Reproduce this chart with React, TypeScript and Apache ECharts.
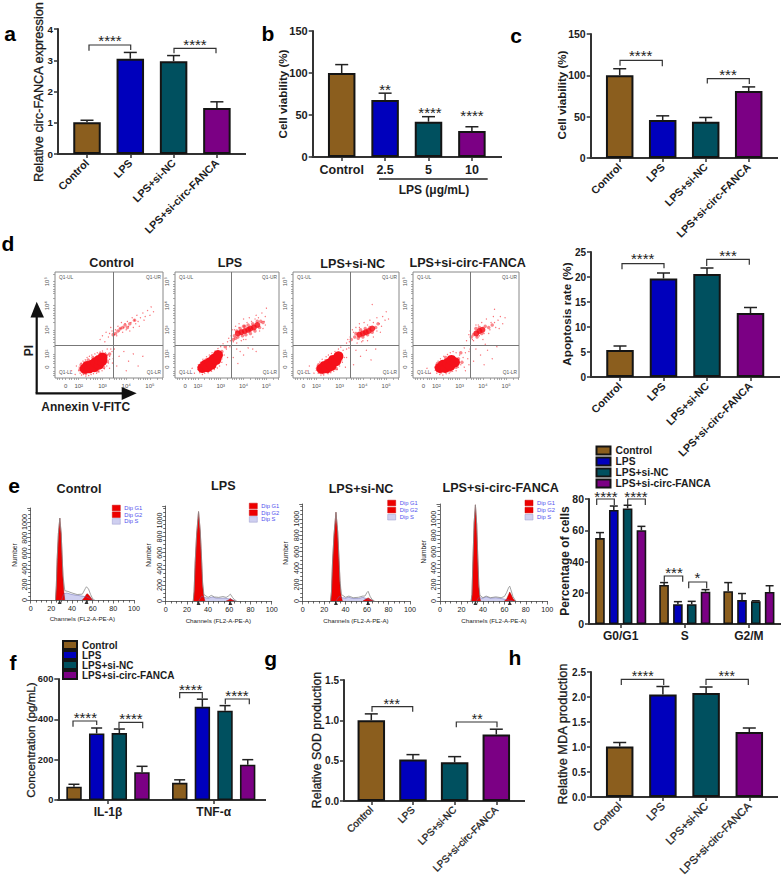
import React, { useEffect, useRef } from "react";
import * as echarts from "echarts";

const FONT = "Liberation Sans, Arial, sans-serif";
const INK = "#1c1c1c";
const AXIS = "#333333";
const COLORS = ["#8b5e1e", "#0000bc", "#00505f", "#7b0084"];

const TREATMENTS = ["Control", "LPS", "LPS+si-NC", "LPS+si-circ-FANCA"];
const DOSES = ["Control", "2.5", "5", "10"];
const PHASES = ["G0/G1", "S", "G2/M"];
const CYTOKINES = ["IL-1β", "TNF-α"];

const A_VALUES = [1.02, 3.05, 2.97, 1.47];
const A_UPPER = [1.08, 3.25, 3.15, 1.67];
const B_VALUES = [100, 68, 42, 31];
const B_UPPER = [110, 76, 48, 36];
const C_VALUES = [100, 46, 44, 81];
const C_UPPER = [108, 51, 49, 86];
const D_VALUES = [5.4, 19.7, 20.6, 12.8];
const D_UPPER = [6.2, 20.8, 21.8, 13.9];
const G_VALUES = [1.0, 0.515, 0.48, 0.825];
const G_UPPER = [1.08, 0.575, 0.55, 0.89];
const H_VALUES = [1.01, 2.05, 2.08, 1.3];
const H_UPPER = [1.09, 2.21, 2.2, 1.38];

// by treatment, across G0/G1, S, G2/M
const E_VALUES = [[55, 25, 21], [73, 12.7, 15.3], [74, 12.7, 14.5], [60, 20.7, 20.5]];
const E_UPPER = [[58.5, 26.5, 26.5], [75.5, 14.3, 19.5], [76, 14.5, 14.9], [62.5, 22, 24.5]];
// by treatment, across IL-1β, TNF-α
const F_VALUES = [[66, 85], [330, 462], [332, 443], [138, 175]];
const F_UPPER = [[78, 100], [357, 500], [352, 468], [167, 200]];

// flow cytometry, in decades of the two log axes
const FACS_TICKS = [1.45, 2, 3, 4, 5];
const FACS_LABELS = ["0", "10²", "10³", "10⁴", "10⁵"];
const FACS_MINOR = [1.1, 1.2, 1.3, 1.45, 1.6, 1.7, 1.8, 1.9, 2, 2.3, 2.5, 2.6, 2.7, 2.8, 2.9, 3, 3.3, 3.5, 3.6, 3.7, 3.8, 3.9, 4, 4.3, 4.5, 4.6, 4.7, 4.8, 4.9, 5, 5.3, 5.5];
const QUADRANT_X = 3.46;
const QUADRANT_Y = 2.38;

const F1_CORE = [[2.25, 1.38], [2.35, 1.5], [2.45, 1.4], [2.55, 1.55], [2.65, 1.45], [2.7, 1.65], [2.85, 1.55], [2.85, 1.75], [2.98, 1.7], [3.0, 1.85]];
const F1_BAND: number[][] = [];
const F1_HAZE = [[2.05, 1.35], [2.1, 1.55], [2.3, 1.2], [2.4, 1.75], [2.6, 1.85], [2.8, 1.3], [3.05, 1.45], [3.2, 1.7], [3.15, 1.95], [2.9, 2.0], [3.3, 2.0], [3.55, 2.85], [3.75, 3.05], [3.95, 3.2], [4.15, 3.25], [4.35, 3.4], [3.65, 2.95], [3.85, 3.1], [4.05, 3.1], [3.45, 2.8]];
const F1_SPARSE = [[2.9, 2.6], [3, 2.75], [3.1, 2.5], [3.15, 2.9], [3.25, 2.7], [3.3, 2.85], [3.4, 2.95], [3.35, 3.1], [3.5, 2.8], [3.55, 3.0], [3.6, 2.75], [3.65, 3.15], [3.7, 2.95], [3.75, 3.05], [3.8, 3.3], [3.85, 2.9], [3.9, 3.1], [3.95, 3.25], [4, 3.0], [4.05, 3.35], [4.1, 3.15], [4.15, 2.95], [4.2, 3.3], [4.25, 3.5], [4.3, 3.1], [4.35, 3.4], [4.4, 3.25], [4.45, 3.6], [4.5, 3.35], [4.55, 3.15], [4.6, 3.5], [4.7, 3.7], [4.75, 3.4], [4.8, 3.55], [4.9, 3.8], [5, 3.6], [5.05, 3.95], [5.15, 3.75], [3.5, 2.2], [3.7, 1.9], [3.9, 2.1], [4.1, 1.7], [3.6, 1.5], [4.3, 2.0], [4.5, 1.5], [4.0, 1.3], [3.45, 1.8], [4.7, 1.9], [3.4, 2.1], [3.3, 1.4], [3.3, 1.9], [3.2, 2.2], [1.7, 1.3], [1.9, 1.5], [1.85, 1.15],
  [2.0, 1.3], [2.02, 1.45], [2.06, 1.2], [2.1, 1.62], [2.12, 1.12], [2.18, 1.7], [2.2, 1.15], [2.28, 1.75], [2.3, 1.08], [2.35, 1.85], [2.42, 1.1], [2.45, 1.9], [2.52, 1.15], [2.55, 1.95], [2.62, 1.18], [2.68, 2.0], [2.75, 1.2], [2.78, 2.05], [2.85, 1.25], [2.9, 2.08], [2.98, 1.3], [3.0, 2.12], [3.08, 1.38], [3.12, 2.05], [3.18, 1.5], [3.22, 1.95], [3.25, 1.62], [3.3, 1.78], [3.35, 2.2], [3.42, 1.62]];

const F2_CORE = [[2.2, 1.42], [2.32, 1.55], [2.42, 1.45], [2.52, 1.65], [2.6, 1.55], [2.7, 1.8], [2.8, 1.75], [2.88, 1.95]];
const F2_BAND = [[3.75, 2.85], [3.9, 2.9], [4.05, 2.95], [4.2, 3.0], [4.3, 3.05], [4.45, 3.1], [4.6, 3.2]];
const F2_HAZE = [[2.05, 1.45], [2.15, 1.3], [2.35, 1.75], [2.55, 1.35], [2.75, 1.55], [3.0, 1.8], [3.05, 2.1], [3.2, 2.3], [3.6, 2.75], [3.65, 2.65], [3.75, 2.7], [3.85, 3.05], [3.95, 2.75], [4.05, 3.15], [4.1, 2.8], [4.2, 3.2], [4.3, 2.85], [4.4, 3.25], [4.5, 2.95], [4.6, 3.35], [4.7, 3.1], [4.75, 3.35], [3.7, 2.95], [4.0, 3.15], [4.85, 3.3], [3.55, 2.6]];
const F2_SPARSE = [[3.3, 2.5], [3.4, 2.3], [3.45, 2.75], [3.5, 3.0], [3.55, 2.5], [3.65, 3.15], [3.8, 3.25], [3.9, 2.55], [4.0, 3.45], [4.1, 2.6], [4.25, 3.5], [4.4, 2.7], [4.55, 3.6], [4.7, 2.95], [4.8, 3.7], [4.9, 3.35], [4.95, 3.55], [5.0, 3.9], [3.7, 2.2], [3.85, 2.1], [4.0, 1.95], [4.2, 2.25], [4.4, 2.2], [4.55, 2.1], [3.55, 1.85], [3.75, 1.6], [3.3, 1.85], [1.75, 1.4], [1.85, 1.2], [3.25, 1.55],
  [2.0, 1.35], [2.02, 1.55], [2.08, 1.22], [2.12, 1.65], [2.2, 1.15], [2.22, 1.78], [2.3, 1.2], [2.38, 1.88], [2.45, 1.22], [2.5, 1.95], [2.6, 1.28], [2.62, 2.05], [2.72, 1.35], [2.75, 2.12], [2.85, 1.42], [2.88, 2.22], [2.95, 1.5], [3.0, 2.3], [3.05, 1.65], [3.1, 2.42], [3.15, 1.95], [3.25, 2.2], [3.35, 2.65], [3.42, 2.55], [3.6, 3.0], [3.7, 2.45], [3.8, 3.1], [4.0, 2.6], [4.15, 3.3], [4.35, 3.35], [4.5, 3.45], [4.65, 3.5], [4.85, 3.05], [4.95, 3.2]];

const F3_CORE = [[2.22, 1.38], [2.35, 1.5], [2.45, 1.4], [2.55, 1.6], [2.65, 1.5], [2.72, 1.75], [2.85, 1.7], [2.95, 1.9]];
const F3_BAND = [[3.85, 2.8], [4.0, 2.85], [4.12, 2.9], [4.25, 2.95], [4.4, 3.05]];
const F3_HAZE = [[2.05, 1.4], [2.1, 1.55], [2.3, 1.22], [2.4, 1.72], [2.6, 1.3], [2.85, 1.4], [3.05, 1.75], [3.05, 2.0], [3.65, 2.7], [3.7, 2.85], [3.8, 2.65], [3.9, 3.0], [4.0, 2.7], [4.1, 3.05], [4.2, 2.8], [4.3, 3.1], [4.4, 2.9], [4.55, 3.1], [4.65, 3.25], [3.5, 2.6]];
const F3_SPARSE = [[3.3, 2.45], [3.4, 2.25], [3.45, 2.7], [3.55, 3.0], [3.7, 3.1], [3.85, 3.25], [3.95, 2.5], [4.05, 3.3], [4.2, 2.55], [4.3, 3.4], [4.45, 2.7], [4.6, 3.5], [4.7, 3.25], [4.75, 2.9], [4.85, 3.55], [4.95, 3.4], [5.0, 3.75], [5.1, 3.45], [4.4, 4.05], [3.7, 2.15], [3.9, 1.9], [4.15, 2.15], [4.35, 1.75], [4.55, 2.2], [3.6, 1.55], [3.3, 1.85], [3.25, 1.45], [1.7, 1.5], [1.6, 1.3], [1.9, 1.2],
  [2.0, 1.32], [2.03, 1.5], [2.08, 1.2], [2.15, 1.66], [2.2, 1.12], [2.25, 1.78], [2.32, 1.12], [2.42, 1.88], [2.5, 1.18], [2.52, 1.95], [2.62, 1.22], [2.65, 2.02], [2.75, 1.28], [2.8, 2.1], [2.9, 1.35], [2.95, 2.2], [3.0, 1.5], [3.05, 2.28], [3.12, 1.65], [3.15, 2.15], [3.2, 1.85], [3.3, 2.2], [3.35, 2.6], [3.42, 2.5], [3.6, 2.9], [3.75, 2.45], [3.85, 3.1], [4.0, 2.55], [4.2, 3.2], [4.45, 3.3], [4.6, 2.95], [4.8, 3.15]];

const F4_CORE = [[2.15, 1.42], [2.28, 1.55], [2.38, 1.42], [2.48, 1.62], [2.6, 1.5], [2.65, 1.75], [2.8, 1.65]];
const F4_BAND = [[3.72, 2.85], [3.85, 2.95], [3.98, 3.0]];
const F4_HAZE = [[1.98, 1.45], [2.05, 1.6], [2.2, 1.25], [2.4, 1.85], [2.6, 1.3], [2.85, 1.45], [2.95, 1.8], [3.1, 1.65], [3.05, 2.05], [3.6, 2.8], [3.75, 2.7], [3.85, 3.1], [3.95, 2.85], [4.1, 3.15], [3.7, 3.05], [4.25, 3.1], [4.4, 3.2], [3.5, 2.7]];
const F4_SPARSE = [[3.3, 2.55], [3.4, 2.8], [3.45, 2.95], [3.55, 2.6], [3.7, 3.2], [3.85, 2.75], [3.95, 3.3], [4.05, 2.85], [4.15, 3.45], [4.3, 3.0], [4.35, 3.3], [4.45, 3.55], [4.55, 3.1], [4.65, 3.4], [4.75, 3.55], [4.85, 3.25], [4.95, 3.5], [4.5, 3.85], [3.4, 2.1], [3.6, 1.7], [3.7, 2.2], [3.9, 1.95], [4.05, 1.55], [4.2, 2.15], [4.4, 1.8], [3.4, 1.55], [3.25, 1.3], [3.2, 2.25], [1.6, 1.4], [1.75, 1.2], [4.6, 2.3], [4.1, 2.4],
  [1.95, 1.32], [1.98, 1.55], [2.02, 1.2], [2.08, 1.7], [2.15, 1.15], [2.18, 1.8], [2.28, 1.12], [2.32, 1.9], [2.42, 1.18], [2.48, 1.98], [2.55, 1.2], [2.6, 2.05], [2.7, 1.28], [2.72, 2.1], [2.85, 1.3], [2.85, 2.05], [2.95, 1.45], [3.0, 1.95], [3.05, 1.55], [3.15, 1.85], [3.2, 1.45], [3.25, 2.05], [3.35, 1.8], [3.45, 2.2], [3.6, 2.55], [3.8, 3.2], [4.0, 2.6], [4.25, 2.85], [4.5, 3.3], [4.7, 3.05]];

// cell cycle histograms: [channel, number]
const H1_G1 = [[24, 0], [24.8, 180], [25.6, 520], [26.8, 850], [28.2, 1050], [29.5, 850], [30.5, 530], [31.3, 280], [32.2, 90], [33, 0]];
const H1_S = [[30, 0], [32, 80], [35, 90], [40, 70], [45, 60], [50, 50], [54, 40], [58, 15], [60, 0]];
const H1_G2 = [[50, 0], [52, 30], [54, 75], [55, 80], [57, 50], [59, 15], [60, 0]];
const H1_TOTAL = [[24, 0], [24.8, 180], [25.6, 520], [26.8, 850], [28.2, 1050], [29.5, 850], [30.5, 540], [31.3, 310], [33, 120], [36, 110], [40, 90], [45, 70], [50, 75], [53, 150], [54, 170], [56, 140], [58, 70], [60, 15], [62, 0]];
const H2_G1 = [[26, 0], [26.8, 120], [27.8, 480], [29.2, 830], [31, 1110], [32.6, 860], [33.8, 520], [34.8, 200], [36, 50], [37, 0]];
const H2_S = [[31, 0], [34, 60], [36, 45], [40, 35], [44, 50], [48, 35], [52, 35], [56, 35], [60, 25], [64, 10], [66, 0]];
const H2_G2 = [[57, 0], [59, 10], [61, 30], [63, 12], [65, 0]];
const H2_TOTAL = [[26, 0], [26.8, 120], [27.8, 480], [29.2, 830], [31, 1110], [32.6, 870], [33.8, 540], [34.8, 240], [36, 80], [40, 45], [43, 70], [46, 50], [50, 45], [54, 55], [57, 45], [59, 60], [61, 85], [63, 45], [65, 15], [67, 0]];
const H3_G1 = [[26, 0], [26.8, 110], [27.8, 470], [29.2, 810], [31, 1080], [32.6, 840], [33.8, 510], [34.8, 210], [36, 50], [37, 0]];
const H3_S = [[31, 0], [34, 55], [37, 40], [40, 35], [43, 45], [47, 30], [52, 30], [56, 45], [60, 25], [64, 10], [66, 0]];
const H3_G2 = [[56, 0], [58, 15], [61, 38], [63, 22], [66, 0]];
const H3_TOTAL = [[26, 0], [26.8, 110], [27.8, 470], [29.2, 810], [31, 1080], [32.6, 850], [33.8, 530], [34.8, 250], [36, 80], [40, 45], [43, 60], [47, 40], [52, 45], [56, 60], [58, 60], [60, 105], [61, 118], [63, 50], [65, 15], [67, 0]];
const H4_G1 = [[29, 0], [29.8, 80], [30.6, 450], [31.8, 950], [33, 1170], [34.2, 930], [35.2, 530], [36.2, 170], [37.2, 30], [38, 0]];
const H4_S = [[34, 0], [36, 40], [40, 35], [43, 50], [47, 35], [52, 40], [57, 30], [61, 20], [65, 8], [68, 0]];
const H4_G2 = [[60, 0], [62, 20], [64, 80], [65, 110], [66, 85], [68, 30], [70, 0]];
const H4_TOTAL = [[29, 0], [29.8, 80], [30.6, 450], [31.8, 950], [33, 1170], [34.2, 935], [35.2, 550], [36.2, 200], [37.2, 70], [40, 40], [43, 60], [47, 40], [52, 50], [57, 40], [60, 55], [62, 100], [64, 165], [65, 180], [66, 140], [68, 55], [70, 10], [71, 0]];
const H1_PEAKS = [28, 54];
const H2_PEAKS = [31, 61];
const H3_PEAKS = [31, 61];
const H4_PEAKS = [33, 65];

type Any = any;

function buildOption() {
  const grids: Any[] = [];
  const xAxes: Any[] = [];
  const yAxes: Any[] = [];
  const series: Any[] = [];
  const graphics: Any[] = [];

  const text = (t: string, x: number, y: number, size: number, opts: Any = {}) => {
    graphics.push({
      type: "text",
      x,
      y,
      rotation: opts.rotation || 0,
      silent: true,
      style: {
        text: t,
        fontFamily: FONT,
        fontSize: size,
        fontWeight: opts.weight || "bold",
        fill: opts.fill || INK,
        stroke: opts.heavy ? INK : undefined,
        lineWidth: opts.heavy ? 0.3 : 0,
        align: opts.align || "center",
        textAlign: opts.align || "center",
        verticalAlign: "middle",
        textVerticalAlign: "middle",
      },
    });
  };
  const line = (x1: number, y1: number, x2: number, y2: number, stroke = AXIS, lineWidth = 2) => {
    graphics.push({ type: "line", silent: true, shape: { x1, y1, x2, y2 }, style: { stroke, lineWidth } });
  };
  const star = (t: string, x: number, y: number, size = 15) => {
    text(t, x, y + 1.2, size, { weight: "normal", fill: "#222" });
  };
  const bracket = (x1: number, x2: number, top: number, b1: number, b2: number, stars: string, sx: number, sy: number, size = 15) => {
    graphics.push({
      type: "polyline",
      silent: true,
      shape: { points: [[x1, b1], [x1, top], [x2, top], [x2, b2]] },
      style: { stroke: "#333", lineWidth: 1.2, fill: "none" },
    });
    star(stars, sx, sy, size);
  };

  const errors = (gi: number, values: number[], upper: number[], offset: number, cap: number, name = "error") => {
    series.push({
      type: "custom",
      name,
      xAxisIndex: gi,
      yAxisIndex: gi,
      z: 5,
      clip: false,
      silent: true,
      encode: { x: 0, y: 1 },
      data: values.map((v, i) => [i, upper[i], v]),
      renderItem: (_p: Any, api: Any) => {
        const top = api.coord([api.value(0), api.value(1)]);
        const base = api.coord([api.value(0), api.value(2)]);
        const x = top[0] + offset;
        const style = { stroke: "#222", lineWidth: 1.5, fill: "none" };
        return {
          type: "group",
          children: [
            { type: "line", shape: { x1: x, y1: top[1], x2: x, y2: base[1] }, style },
            { type: "line", shape: { x1: x - cap, y1: top[1], x2: x + cap, y2: top[1] }, style },
          ],
        };
      },
    });
  };

  const frame = (cats: string[], c: Any) => {
    const gi = grids.length;
    const left = c.first - c.step / 2;
    grids.push({ left, width: c.step * cats.length, top: c.top, height: c.y0 - c.top });
    xAxes.push({
      gridIndex: gi,
      type: "category",
      data: cats,
      axisLine: { show: false },
      axisTick: { show: true, alignWithLabel: true, length: 4, lineStyle: { color: AXIS, width: 1.5 } },
      axisLabel: {
        interval: 0,
        rotate: c.rotate || 0,
        margin: c.labelMargin ?? 7,
        fontFamily: FONT,
        fontSize: c.labelSize,
        fontWeight: c.labelWeight || "bold",
        color: INK,
        textBorderColor: c.labelWeight ? INK : undefined,
        textBorderWidth: c.labelWeight ? 0.3 : 0,
      },
    });
    yAxes.push({
      gridIndex: gi,
      type: "value",
      min: 0,
      max: c.max,
      interval: c.interval,
      offset: left - c.axisX,
      splitLine: { show: false },
      axisLine: { show: true, lineStyle: { color: AXIS, width: 2 } },
      axisTick: { show: true, length: 4, lineStyle: { color: AXIS, width: 1.5 } },
      axisLabel: {
        margin: 5,
        fontFamily: FONT,
        fontSize: c.tickSize,
        fontWeight: "bold",
        color: INK,
        formatter: c.decimals ? (v: number) => v.toFixed(c.decimals) : undefined,
      },
    });
    line(c.axisX - 1, c.y0, c.endX, c.y0);
    return gi;
  };

  const singlePanel = (cats: string[], values: number[], upper: number[], c: Any) => {
    const gi = frame(cats, c);
    series.push({
      type: "bar",
      name: c.name,
      xAxisIndex: gi,
      yAxisIndex: gi,
      barWidth: 27.5,
      data: values.map((v, i) => ({
        value: v,
        itemStyle: { color: COLORS[i], borderColor: "#141414", borderWidth: 2 },
      })),
    });
    errors(gi, values, upper, 0, 6.5);
  };

  const groupPanel = (cats: string[], values: number[][], upper: number[][], c: Any) => {
    const gi = frame(cats, c);
    TREATMENTS.forEach((t, s) => {
      series.push({
        type: "bar",
        name: t,
        xAxisIndex: gi,
        yAxisIndex: gi,
        barWidth: c.barW,
        barGap: c.barGap,
        barCategoryGap: c.catGap,
        itemStyle: { color: COLORS[s], borderColor: "#141414", borderWidth: 1.6 },
        data: values[s],
      });
      errors(gi, values[s], upper[s], (s - 1.5) * c.spacing, c.cap);
    });
  };

  // a
  singlePanel(TREATMENTS, A_VALUES, A_UPPER, {
    name: "a", first: 87, step: 43.3, axisX: 58, endX: 246, top: 29, y0: 154, max: 4, interval: 1,
    rotate: 45, labelSize: 10.8, tickSize: 9.8,
  });
  text("Relative circ-FANCA expression", 39, 92, 12.7, { rotation: Math.PI / 2, weight: "normal", heavy: true });
  bracket(89, 130.7, 45, 50.7, 50, "****", 110, 39);
  bracket(174, 216, 48.3, 53.3, 53.3, "****", 195, 43.3);

  // b
  singlePanel(DOSES, B_VALUES, B_UPPER, {
    name: "b", first: 341.7, step: 43.4, axisX: 312.7, endX: 502, top: 31, y0: 157, max: 150, interval: 50,
    labelSize: 12.5, labelMargin: 6, tickSize: 11,
  });
  text("Cell viability (%)", 282.7, 94, 11.6, { rotation: Math.PI / 2 });
  line(379, 179, 487.7, 179, "#222", 1.6);
  text("LPS (μg/mL)", 434, 190, 12);
  star("**", 385, 88);
  star("****", 430, 111);
  star("****", 472, 114);

  // c
  singlePanel(TREATMENTS, C_VALUES, C_UPPER, {
    name: "c", first: 619.7, step: 43, axisX: 590.7, endX: 778, top: 34, y0: 158, max: 150, interval: 50,
    rotate: 45, labelSize: 10.8, tickSize: 10.5,
  });
  text("Cell viability (%)", 561, 95, 11.6, { rotation: Math.PI / 2 });
  bracket(620, 662.3, 60.3, 65.7, 66.3, "****", 640.7, 54.3);
  bracket(707.3, 749.3, 78.7, 83.5, 84, "***", 728, 73.3);

  // d: bars
  singlePanel(TREATMENTS, D_VALUES, D_UPPER, {
    name: "d", first: 620, step: 43.5, axisX: 591, endX: 780, top: 252, y0: 377, max: 25, interval: 5,
    rotate: 45, labelSize: 10.8, tickSize: 10,
  });
  text("Apoptosis rate (%)", 566, 314, 11.7, { rotation: Math.PI / 2 });
  bracket(622, 664, 263.7, 269.3, 268.3, "****", 642.7, 257.7);
  bracket(706.7, 749.3, 259.3, 266, 264.7, "***", 728, 254.3);

  // e: bars
  groupPanel(PHASES, E_VALUES, E_UPPER, {
    first: 620.7, step: 64.1, axisX: 589, endX: 781, top: 499, y0: 624, max: 80, interval: 20,
    labelSize: 12, labelMargin: 6, tickSize: 10.5, barW: 9.6, barGap: "44%", catGap: "0%", spacing: 13.8, cap: 4,
  });
  text("Percentage of cells", 565, 561, 12, { rotation: Math.PI / 2 });
  bracket(596.7, 614.3, 499, 505, 505, "****", 606, 495);
  bracket(627.7, 645.3, 499, 505, 505, "****", 636, 495);
  bracket(664.3, 682.7, 576, 581.7, 581.7, "***", 674, 571.7);
  bracket(688.7, 706.7, 582, 588.3, 588.3, "*", 697.3, 576.7);

  // f
  groupPanel(CYTOKINES, F_VALUES, F_UPPER, {
    first: 108, step: 105.7, axisX: 58.3, endX: 266, top: 679, y0: 800, max: 600, interval: 200,
    labelSize: 12, labelMargin: 6, tickSize: 9.3, barW: 15.4, barGap: "47%", catGap: "0%", spacing: 22.7, cap: 5.5,
  });
  text("Concentration (pg/mL)", 30.7, 740, 11.6, { rotation: Math.PI / 2, weight: "normal", heavy: true });
  bracket(73, 96.7, 721, 726.7, 725, "****", 85.3, 716.7);
  bracket(119, 142.7, 722.3, 728.3, 728.3, "****", 131, 717.3);
  bracket(179.7, 202.3, 692.7, 698.3, 698.3, "****", 190.7, 688.3);
  bracket(225.3, 249.3, 699, 704.3, 704.3, "****", 237, 694.3);

  // g
  singlePanel(TREATMENTS, G_VALUES, G_UPPER, {
    name: "g", first: 371.3, step: 41.67, axisX: 344, endX: 525, top: 680, y0: 801, max: 1.5, interval: 0.5,
    rotate: 45, labelSize: 10, labelWeight: "normal", decimals: 1, tickSize: 10,
  });
  text("Relative SOD production", 317.3, 740, 12.4, { rotation: Math.PI / 2, weight: "normal", heavy: true });
  bracket(372, 412.7, 706.7, 711.7, 711.7, "***", 391.7, 702.3, 14);
  bracket(456.3, 497, 722, 727.3, 727.3, "**", 477.3, 717.3, 14);

  // h
  singlePanel(TREATMENTS, H_VALUES, H_UPPER, {
    name: "h", first: 619.7, step: 43.2, axisX: 591, endX: 778, top: 672, y0: 797, max: 2.5, interval: 0.5,
    rotate: 45, labelSize: 11, labelWeight: "normal", decimals: 1, tickSize: 10,
  });
  text("Relative MDA production", 562.7, 734, 12.8, { rotation: Math.PI / 2, weight: "normal", heavy: true });
  bracket(621.3, 663.7, 679.3, 685, 685, "****", 642.7, 674.7, 14);
  bracket(706, 748.3, 679.3, 685, 685, "***", 726.7, 674.7, 14);

  // d: flow cytometry
  const facs = (title: string, tx: number, ty: number, box: number[], core: number[][], band: number[][], haze: number[][], sparse: number[][]) => {
    const [l, t, r, b] = box;
    const gi = grids.length;
    grids.push({ left: l, top: t, width: r - l, height: b - t, show: true, borderColor: "#888", borderWidth: 1, backgroundColor: "transparent" });
    const lab = (rotate: number) => ({
      customValues: FACS_TICKS,
      rotate,
      margin: 5,
      fontFamily: FONT,
      fontSize: 6,
      color: "#555",
      formatter: (v: number) => FACS_LABELS[FACS_TICKS.indexOf(v)],
    });
    const tick = { customValues: FACS_MINOR, length: 2, lineStyle: { color: "#888", width: 0.7 } };
    xAxes.push({ gridIndex: gi, type: "value", min: 1, max: 5.55, splitLine: { show: false }, axisLine: { show: false }, axisTick: tick, axisLabel: lab(0) });
    yAxes.push({ gridIndex: gi, type: "value", min: 1, max: 5.4, splitLine: { show: false }, axisLine: { show: false }, axisTick: tick, axisLabel: lab(90) });
    const scatter = (data: number[][], size: number, opacity: number) => ({
      type: "scatter",
      name: "events",
      xAxisIndex: gi,
      yAxisIndex: gi,
      silent: true,
      symbolSize: size,
      itemStyle: { color: "#f5101a", opacity },
      data,
    });
    series.push(scatter(sparse, 1.3, 0.6));
    series.push(scatter(haze, 3.5, 0.5));
    series.push(scatter(band, 6, 0.85));
    series.push({
      ...scatter(core, 10, 1),
      markLine: {
        silent: true,
        symbol: "none",
        label: { show: false },
        lineStyle: { color: "#777", width: 1, type: "solid" },
        data: [{ xAxis: QUADRANT_X }, { yAxis: QUADRANT_Y }],
      },
    });
    text(title, tx, ty, 12.6);
    const q = { weight: "normal", fill: "#555" };
    text("Q1-UL", l + 4, t + 5.5, 4.8, { ...q, align: "left" });
    text("Q1-UR", r - 2, t + 5.5, 4.8, { ...q, align: "right" });
    text("Q1-LL", l + 4, b - 6, 4.8, { ...q, align: "left" });
    text("Q1-LR", r - 2, b - 6, 4.8, { ...q, align: "right" });
  };
  facs("Control", 111.7, 263.3, [55, 272, 163, 378], F1_CORE, F1_BAND, F1_HAZE, F1_SPARSE);
  facs("LPS", 230, 263.3, [175, 272, 279, 378], F2_CORE, F2_BAND, F2_HAZE, F2_SPARSE);
  facs("LPS+si-NC", 352.7, 264.3, [293, 272, 399, 378], F3_CORE, F3_BAND, F3_HAZE, F3_SPARSE);
  facs("LPS+si-circ-FANCA", 467.7, 263.3, [413, 272, 519, 378], F4_CORE, F4_BAND, F4_HAZE, F4_SPARSE);

  // arrows
  line(36.7, 393.3, 36.7, 315, "#111", 2.2);
  line(35.6, 393.3, 124, 393.3, "#111", 2.2);
  graphics.push({ type: "polygon", silent: true, shape: { points: [[36.7, 301.7], [30.5, 317.5], [44, 317.5]] }, style: { fill: "#111" } });
  graphics.push({ type: "polygon", silent: true, shape: { points: [[136.7, 393.3], [121.7, 387], [121.7, 400]] }, style: { fill: "#111" } });
  text("PI", 29.3, 350.7, 12, { rotation: Math.PI / 2 });
  text("Annexin V-FITC", 85.7, 407.3, 12);

  // e: histograms
  const hist = (c: Any, g1: number[][], s: number[][], g2: number[][], total: number[][], peaks: number[]) => {
    const gi = grids.length;
    grids.push({ left: c.l, width: c.r - c.l, top: c.top, height: c.y0 - c.top });
    const ax = { color: "#444", width: 0.8 };
    const label = { fontFamily: FONT, fontSize: 7.2, color: "#222", margin: 5, formatter: (v: number) => String(v) };
    xAxes.push({
      gridIndex: gi, type: "value", min: 0, max: 100, interval: 20, splitLine: { show: false },
      axisLine: { show: true, lineStyle: ax }, axisTick: { show: true, length: 3.5, lineStyle: ax },
      minorTick: { show: true, splitNumber: 4, length: 2.5, lineStyle: ax }, axisLabel: label,
    });
    yAxes.push({
      gridIndex: gi, type: "value", min: 0, max: 1180, interval: 200, splitLine: { show: false },
      axisLine: { show: true, lineStyle: ax }, axisTick: { show: true, length: 3.5, lineStyle: ax },
      minorTick: { show: true, splitNumber: 4, length: 2.5, lineStyle: ax },
      axisLabel: { ...label, rotate: 90, margin: 3 },
    });
    const area = (data: number[][], fill: string, stroke: string, name: string) => ({
      type: "line", name, xAxisIndex: gi, yAxisIndex: gi, symbol: "none", silent: true,
      lineStyle: { color: stroke, width: 0.5 }, areaStyle: fill ? { color: fill, opacity: 1 } : undefined, data,
    });
    series.push(area(s, "#cfcff0", "#6666aa", "Dip S"));
    series.push(area(g1, "#ee0000", "#a01010", "Dip G1"));
    series.push(area(g2, "#ee0000", "#a01010", "Dip G2"));
    series.push({ ...area(total, "", "#8a8a8a", "Total"), lineStyle: { color: "#8a8a8a", width: 0.8 } });
    series.push({
      type: "scatter", name: "peak", xAxisIndex: gi, yAxisIndex: gi, silent: true, symbol: "triangle", symbolSize: 4,
      symbolOffset: [0, 2], itemStyle: { color: "#000" }, data: peaks.map((p) => [p, 0]),
    });
    text(c.title, c.titleX, c.titleY, 12.6);
    text("Number", c.nx, c.ny, 6.6, { rotation: Math.PI / 2, weight: "normal" });
    text("Channels (FL2-A-PE-A)", c.cx, c.cy, 6.2, { weight: "normal" });
    ["Dip G1", "Dip G2", "Dip S"].forEach((n, i) => {
      const y = c.legY + i * c.legStep;
      graphics.push({
        type: "rect", silent: true, shape: { x: c.legX, y: y - 2.8, width: 8, height: 5.6 },
        style: { fill: i < 2 ? "#ee0000" : "#cfcff0", stroke: i < 2 ? "#cc0000" : "#9999cc", lineWidth: 0.5 },
      });
      text(n, c.legX + 12, y, 5.8, { weight: "normal", fill: "#5050ee", align: "left" });
    });
  };
  hist({ l: 30.7, r: 134, top: 508, y0: 600, title: "Control", titleX: 79, titleY: 489, nx: 14, ny: 555, cx: 82.3, cy: 618.7, legX: 112.3, legY: 508, legStep: 6.7 }, H1_G1, H1_S, H1_G2, H1_TOTAL, H1_PEAKS);
  hist({ l: 165.7, r: 271.7, top: 506, y0: 601, title: "LPS", titleX: 223.3, titleY: 485.7, nx: 148.3, ny: 555, cx: 218.3, cy: 620, legX: 249.3, legY: 506, legStep: 6.7 }, H2_G1, H2_S, H2_G2, H2_TOTAL, H2_PEAKS);
  hist({ l: 302.7, r: 410, top: 504, y0: 601, title: "LPS+si-NC", titleX: 361, titleY: 489, nx: 285.7, ny: 553, cx: 356, cy: 620, legX: 387.7, legY: 503, legStep: 7.1 }, H3_G1, H3_S, H3_G2, H3_TOTAL, H3_PEAKS);
  hist({ l: 440, r: 547.3, top: 504, y0: 601, title: "LPS+si-circ-FANCA", titleX: 500.7, titleY: 488.3, nx: 423.3, ny: 551.7, cx: 494, cy: 620, legX: 525, legY: 503, legStep: 7.1 }, H4_G1, H4_S, H4_G2, H4_TOTAL, H4_PEAKS);

  // panel letters
  ([["a", 10, 33], ["b", 268, 33], ["c", 516, 35], ["d", 8, 243], ["e", 14, 485], ["f", 13, 662], ["g", 270.7, 658], ["h", 515, 657]] as [string, number, number][]).forEach(
    ([l, x, y]) => text(l, x, y, 21, { fill: "#000" })
  );

  const legendOf = (left: number, top: number, size: number, gap: number) => ({
    show: true,
    left,
    top,
    orient: "vertical",
    padding: 0,
    itemWidth: 14,
    itemHeight: 8,
    itemGap: gap,
    icon: "rect",
    selectedMode: false,
    data: TREATMENTS,
    textStyle: { fontFamily: FONT, fontSize: size, fontWeight: "bold", color: INK },
  });

  return {
    animation: false,
    backgroundColor: "#ffffff",
    grid: grids,
    xAxis: xAxes,
    yAxis: yAxes,
    series,
    graphic: { elements: graphics },
    legend: [legendOf(595.5, 445.5, 10.3, 1), legendOf(62, 640, 10, 0)],
  };
}

export default function App() {
  const ref = useRef<HTMLDivElement>(null);
  useEffect(() => {
    const chart = echarts.init(ref.current!, undefined, { renderer: "svg" });
    chart.setOption(buildOption());
    return () => chart.dispose();
  }, []);
  return <div ref={ref} style={{ position: "absolute", left: 0, top: 0, width: 781, height: 879 }} />;
}
